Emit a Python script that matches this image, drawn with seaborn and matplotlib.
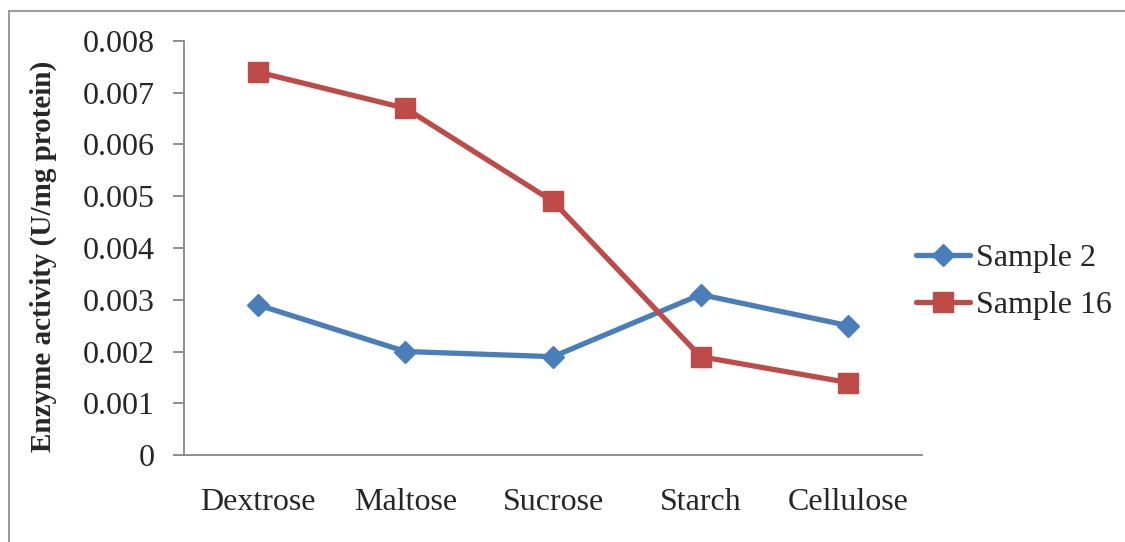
import pandas as pd
import numpy as np
import matplotlib.pyplot as plt
import seaborn as sns
from matplotlib.patches import Rectangle
from matplotlib.ticker import FixedLocator

# data
substrates = ["Dextrose", "Maltose", "Sucrose", "Starch", "Cellulose"]
sample_2 = [0.0029, 0.0020, 0.0019, 0.0031, 0.0025]
sample_16 = [0.0074, 0.0067, 0.0049, 0.0019, 0.0014]
series_names = ["Sample 2", "Sample 16"]
colors = ["#4A7EBB", "#BE4B48"]
y_ticks = [0, 0.001, 0.002, 0.003, 0.004, 0.005, 0.006, 0.007, 0.008]
y_tick_labels = ["0", "0.001", "0.002", "0.003", "0.004", "0.005", "0.006", "0.007", "0.008"]

df = pd.DataFrame({
    "Substrate": substrates * 2,
    "Activity": sample_2 + sample_16,
    "Series": [series_names[0]] * len(substrates) + [series_names[1]] * len(substrates),
})

sns.set_style("white")
plt.rcParams["font.family"] = ["Liberation Serif", "DejaVu Serif"]

fig = plt.figure(figsize=(11.25, 5.42), dpi=100)
ax = fig.add_axes([0.1636, 0.1605, 0.656, 0.7639])

sns.lineplot(data=df, x="Substrate", y="Activity", hue="Series", style="Series",
             palette=dict(zip(series_names, colors)),
             markers={"Sample 2": "D", "Sample 16": "s"}, dashes=False,
             linewidth=3.8, ax=ax, sort=False, legend=False)

# marker sizes per series
for line, ms in zip(ax.lines[:2], [11, 14]):
    line.set_markersize(ms)
    line.set_markeredgewidth(1)
    line.set_markeredgecolor(line.get_color())

ax.set_ylim(0, 0.008)
ax.set_xlim(-0.5, len(substrates) - 0.5)
ax.set_yticks(y_ticks)
ax.set_yticklabels(y_tick_labels)

# category labels at centres, tick marks between categories
ax.set_xticks(range(len(substrates)))
ax.set_xticklabels(substrates)
ax.xaxis.set_minor_locator(FixedLocator(np.arange(-0.5, len(substrates), 1.0)))
ax.tick_params(axis="x", which="major", length=0, pad=24, labelsize=23)
ax.tick_params(axis="x", which="minor", length=9, width=1.3, color="#868686", direction="out")
ax.tick_params(axis="y", length=8, width=1.3, color="#868686", direction="out", pad=13, labelsize=23,
               left=True)

for side in ["top", "right"]:
    ax.spines[side].set_visible(False)
for side in ["left", "bottom"]:
    ax.spines[side].set_color("#868686")
    ax.spines[side].set_linewidth(1.3)

ax.set_xlabel("")
ax.set_ylabel("Enzyme activity (U/mg protein)", fontsize=21, fontweight="bold")
ax.yaxis.set_label_coords(-0.172, 0.48)

ax.legend(ax.lines[:2], series_names, loc="center left", bbox_to_anchor=(0.814, 0.48),
          bbox_transform=fig.transFigure, frameon=False, fontsize=23,
          handlelength=1.7, handletextpad=0.2, borderpad=0, borderaxespad=0,
          labelspacing=0.55)

# outer chart border as in the original
fig.patches.append(Rectangle((0.008, -0.05), 1.2, 0.9788 + 0.05, transform=fig.transFigure,
                             fill=False, edgecolor="#898989", linewidth=1.2))

plt.savefig("out.png", dpi=100)
